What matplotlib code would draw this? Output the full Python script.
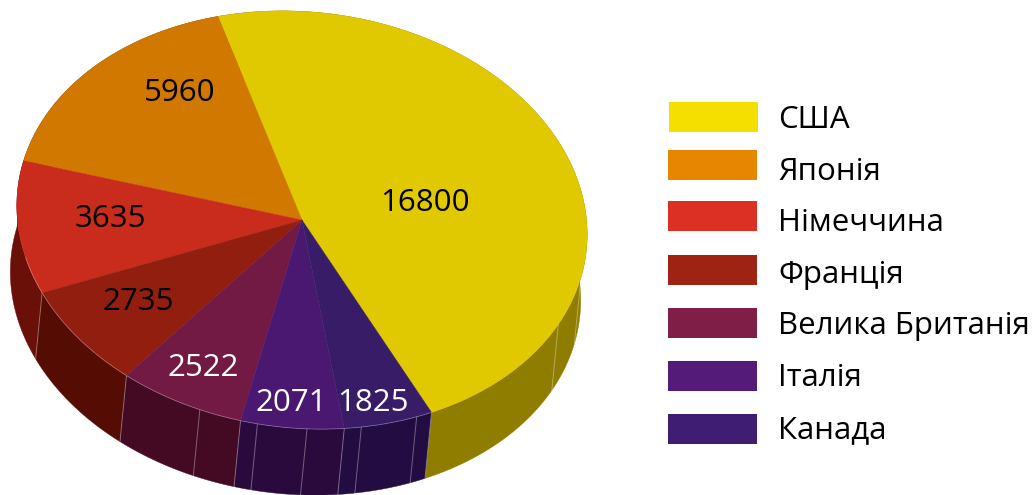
import numpy as np
import matplotlib
matplotlib.use('Agg')
import matplotlib.pyplot as plt
from matplotlib.patches import Wedge, Polygon, Rectangle
from matplotlib.transforms import Affine2D

plt.rcParams['font.family'] = ['Open Sans', 'DejaVu Sans']

# data
countries = ['США', 'Японія', 'Німеччина', 'Франція', 'Велика Британія', 'Італія', 'Канада']
values = [16800, 5960, 3635, 2735, 2522, 2071, 1825]

# colours
top_colors = ['#E0C900', '#D07800', '#C92B1D', '#921E10', '#731A44', '#4A1870', '#381C68']
side_colors = ['#8F7D00', '#8A5000', '#6A1009', '#540C03', '#440A24', '#2A0A3D', '#220C42']
legend_colors = ['#F5DF00', '#E78600', '#DC3024', '#9E2312', '#7F1F48', '#541B78', '#3E1D72']

# label placement, pixels (centre x, baseline y)
label_pos = [(425, 211), (180, 101), (110, 227), (138, 310), (203, 376), (291, 411), (373, 411)]
label_colors = ['black', 'black', 'black', 'black', 'white', 'white', 'white']

legend_y = [102, 150, 201, 255, 308, 361, 414]
legend_base = [128, 180, 231, 283, 334, 386, 438]
legend_x = [669, 668, 668, 668, 668, 668, 668]

# pie geometry: unit circle -> tilted ellipse in pixels
cx, cy = 302.0, 220.0
matrix = np.array([[285.0, -10.0, cx], [7.0, -209.0, cy], [0.0, 0.0, 1.0]])
depth_x, depth_y = -6.5, 66.0
start_angle = -65.0
seam_angles = [-113, -101, -91, -80, -68.3, -28, -14]


def rim_point(theta_deg, shift=(0.0, 0.0)):
    t = np.radians(theta_deg)
    x = matrix[0, 0] * np.cos(t) + matrix[0, 1] * np.sin(t) + cx + shift[0]
    y = matrix[1, 0] * np.cos(t) + matrix[1, 1] * np.sin(t) + cy + shift[1]
    return np.column_stack([x, y])


fig = plt.figure(figsize=(10.33, 4.95), dpi=100)
ax = fig.add_axes([0, 0, 1, 1])
ax.set_xlim(0, 1033)
ax.set_ylim(495, 0)
ax.axis('off')

# slices run counter-clockwise from the front right
sweeps = np.array(values) / sum(values) * 360.0
ends = start_angle + np.cumsum(sweeps)
starts = ends - sweeps

# side walls first, the top faces cover whatever is behind
for th1, th2, col in zip(starts, ends, side_colors):
    th = np.linspace(th1, th2, 120)
    upper = rim_point(th)
    lower = rim_point(th, (depth_x, depth_y))
    ax.add_patch(Polygon(np.vstack([upper, lower[::-1]]), closed=True,
                         facecolor=col, edgecolor=col, linewidth=0.3, zorder=1))

# thin seams on the wall
boundaries = [b - 360 for b in ends[2:-1]] + [start_angle]
for th in boundaries + seam_angles:
    p = rim_point(np.array([th]))[0]
    q = rim_point(np.array([th]), (depth_x, depth_y))[0]
    ax.plot([p[0], q[0]], [p[1], q[1]], color='white', lw=0.7, alpha=0.35, zorder=2)

# top faces
pie_tf = Affine2D(matrix) + ax.transData
for th1, th2, col in zip(starts, ends, top_colors):
    ax.add_patch(Wedge((0, 0), 1.0, th1, th2, facecolor=col, edgecolor=col,
                       linewidth=0.3, transform=pie_tf, zorder=3))

# faint light rim along the front
th = np.linspace(start_angle, ends[2] - 360 - 10, 200)
front = rim_point(th)
ax.plot(front[:, 0], front[:, 1], color='white', lw=0.6, alpha=0.3, zorder=4)

for val, (x, y), col in zip(values, label_pos, label_colors):
    ax.text(x, y, str(val), color=col, fontsize=22.5, ha='center', va='baseline', zorder=5)

# legend drawn by hand, the swatches are not quite aligned in the original
for name, col, x, y, base in zip(countries, legend_colors, legend_x, legend_y, legend_base):
    ax.add_patch(Rectangle((x, y), 89, 30, facecolor=col, edgecolor='none'))
    ax.text(778, base, name, color='black', fontsize=22.5, ha='left', va='baseline')

fig.savefig('out.png', dpi=100)
